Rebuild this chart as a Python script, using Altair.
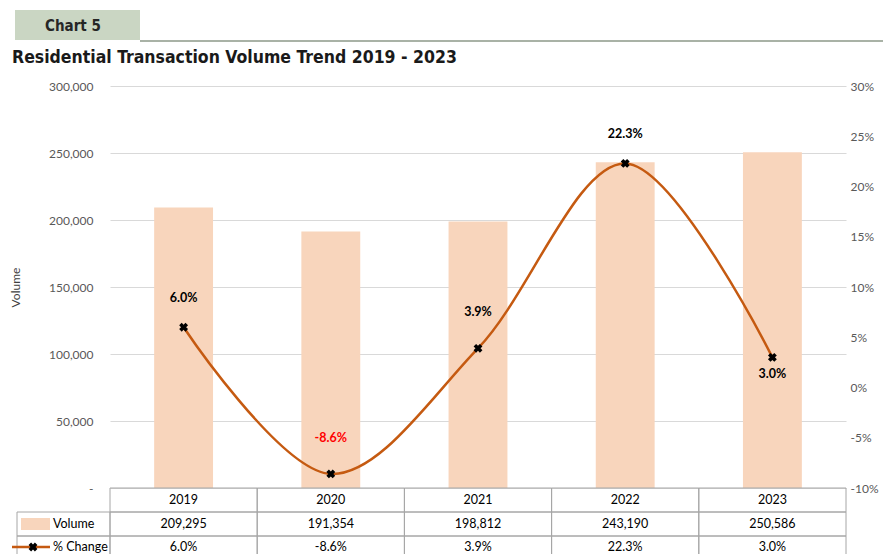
import altair as alt
import pandas as pd

# ---- data ----
years = ["2019", "2020", "2021", "2022", "2023"]
volume = [209295, 191354, 198812, 243190, 250586]
pct_change = [6.0, -8.6, 3.9, 22.3, 3.0]
series_names = ["Volume", "% Change"]
chart_tag = "Chart 5"
chart_title = "Residential Transaction Volume Trend 2019 - 2023"
vol_ticks = [0, 50000, 100000, 150000, 200000, 250000, 300000]
pct_ticks = [-10, -5, 0, 5, 10, 15, 20, 25, 30]

df = pd.DataFrame({"year": years, "volume": volume, "pct": pct_change})

W, H = 736, 402
FONT = "Lato"
HEAD_FONT = "Liberation Sans Narrow, Arial Narrow, DejaVu Sans Condensed, Roboto, sans-serif"
BAR_COLOR = "#f8d5bc"
LINE_COLOR = "#c55a11"
GRID = "#d9d9d9"
TABLE_LINE = "#a6a6a6"
PCT_FMT = "replace(format(datum.pct, '.1f'), '\u2212', '-') + '%'"

xenc = alt.X("year:N", scale=alt.Scale(paddingInner=0, paddingOuter=0), axis=None, sort=years)

base = alt.Chart(df)

bars = base.mark_bar(width=alt.RelativeBandSize(0.4), color=BAR_COLOR).encode(
    x=xenc,
    y=alt.Y(
        "volume:Q",
        scale=alt.Scale(domain=[0, 300000], nice=False),
        axis=alt.Axis(
            values=vol_ticks,
            labelExpr="datum.value == 0 ? '-' : format(datum.value, ',')",
            grid=True, gridColor=GRID, gridWidth=1,
            labelPadding=17,
            title="Volume", titleFont=FONT, titleFontSize=12, titleFontWeight="normal",
            titleColor="#404040", titleX=-88, titleY=201, titleAlign="center",
        ),
    ),
)

# ---- table cells ----
def cells(y0, y1):
    return base.mark_rect(fillOpacity=0, stroke=TABLE_LINE, strokeWidth=1).encode(
        x=xenc, y=alt.value(y0), y2=alt.value(y1)
    )

one = alt.Chart(pd.DataFrame({"s": [series_names[0]]}))
two = alt.Chart(pd.DataFrame({"s": [series_names[1]]}))

legend_cells = one.mark_rect(fillOpacity=0, stroke=TABLE_LINE, strokeWidth=1).encode(
    x=alt.value(-93), x2=alt.value(0), y=alt.value(426), y2=alt.value(450)
)
legend_cells2 = two.mark_rect(fillOpacity=0, stroke=TABLE_LINE, strokeWidth=1).encode(
    x=alt.value(-93), x2=alt.value(0), y=alt.value(450), y2=alt.value(474)
)

txt_kw = dict(font=FONT, fontSize=12.5, color="#000000")
t_year = base.mark_text(**txt_kw).encode(x=xenc, y=alt.value(414), text="year:N")
t_vol = base.mark_text(**txt_kw).encode(x=xenc, y=alt.value(438), text=alt.Text("volume:Q", format=","))
t_pct = base.transform_calculate(lbl=PCT_FMT).mark_text(**txt_kw).encode(
    x=xenc, y=alt.value(461), text="lbl:N"
)

leg_rect = one.mark_rect(color=BAR_COLOR).encode(
    x=alt.value(-89), x2=alt.value(-60), y=alt.value(432), y2=alt.value(444)
)
leg_t1 = one.mark_text(align="left", **txt_kw).encode(x=alt.value(-57), y=alt.value(438), text="s:N")
leg_line = two.mark_rule(color=LINE_COLOR, strokeWidth=2.5).encode(
    x=alt.value(-98), x2=alt.value(-60), y=alt.value(461)
)
leg_pt = two.mark_point(shape="cross", angle=45, filled=True, color="black", size=80, opacity=1).encode(
    x=alt.value(-77), y=alt.value(461)
)
leg_t2 = two.mark_text(align="left", **txt_kw).encode(x=alt.value(-57), y=alt.value(461), text="s:N")

# ---- header ----
tag = alt.Chart(pd.DataFrame({"t": [chart_tag]}))
tag_box = tag.mark_rect(color="#cad6c3").encode(
    x=alt.value(-95), x2=alt.value(30), y=alt.value(-76), y2=alt.value(-46)
)
tag_text = tag.mark_text(font=HEAD_FONT, fontSize=15, fontWeight="bold", color="#262626").encode(
    x=alt.value(-37), y=alt.value(-60), text="t:N"
)
tag_rule = tag.mark_rule(color="#8c9888", strokeWidth=1.5).encode(
    x=alt.value(30), x2=alt.value(781), y=alt.value(-45)
)
title_text = alt.Chart(pd.DataFrame({"t": [chart_title]})).mark_text(
    font=HEAD_FONT, fontSize=17.5, fontWeight="bold", color="#1a1a1a", align="left"
).encode(x=alt.value(-98), y=alt.value(-28), text="t:N")

left_group = alt.layer(
    bars,
    cells(402, 426), cells(426, 450), cells(450, 474),
    legend_cells, legend_cells2,
    t_year, t_vol, t_pct,
    leg_rect, leg_t1, leg_line, leg_pt, leg_t2,
    tag_box, tag_text, tag_rule, title_text,
)

# ---- % change series ----
yp = alt.Y(
    "pct:Q",
    scale=alt.Scale(domain=[-10, 30], nice=False),
    axis=alt.Axis(orient="right", values=pct_ticks, labelExpr="datum.value + '%'",
                  grid=False, labelPadding=4, title=""),
)
lbl_base = base.transform_calculate(lbl=PCT_FMT)
line = base.mark_line(interpolate="catmull-rom", color=LINE_COLOR, strokeWidth=2.5).encode(x=xenc, y=yp)
pts = base.mark_point(shape="cross", angle=45, filled=True, color="black", size=80, opacity=1).encode(x=xenc, y=yp)
lab_kw = dict(font=FONT, fontSize=12.5, fontWeight="bold")
col = alt.condition("datum.pct < 0", alt.value("#ff0000"), alt.value("#000000"))
lab_a = lbl_base.transform_filter("datum.year == '2019' || datum.year == '2022'").mark_text(dy=-29, **lab_kw).encode(
    x=xenc, y=yp, text="lbl:N", color=col)
lab_b = lbl_base.transform_filter("datum.year == '2020' || datum.year == '2021'").mark_text(dy=-36, **lab_kw).encode(
    x=xenc, y=yp, text="lbl:N", color=col)
lab_c = lbl_base.transform_filter("datum.year == '2023'").mark_text(dy=17, **lab_kw).encode(
    x=xenc, y=yp, text="lbl:N", color=col)

right_group = alt.layer(line, pts, lab_a, lab_b, lab_c)

chart = alt.layer(left_group, right_group).resolve_scale(y="independent").properties(
    width=W, height=H,
    autosize=alt.AutoSizeParams(type="none"),
    padding={"left": 102, "top": 78, "right": 37, "bottom": 68},
).configure_view(strokeWidth=0).configure_axis(
    labelFont=FONT, labelFontSize=12, labelColor="#595959", domain=False, ticks=False
)

chart.save("out.html", embed_options={"renderer": "svg", "actions": False})
